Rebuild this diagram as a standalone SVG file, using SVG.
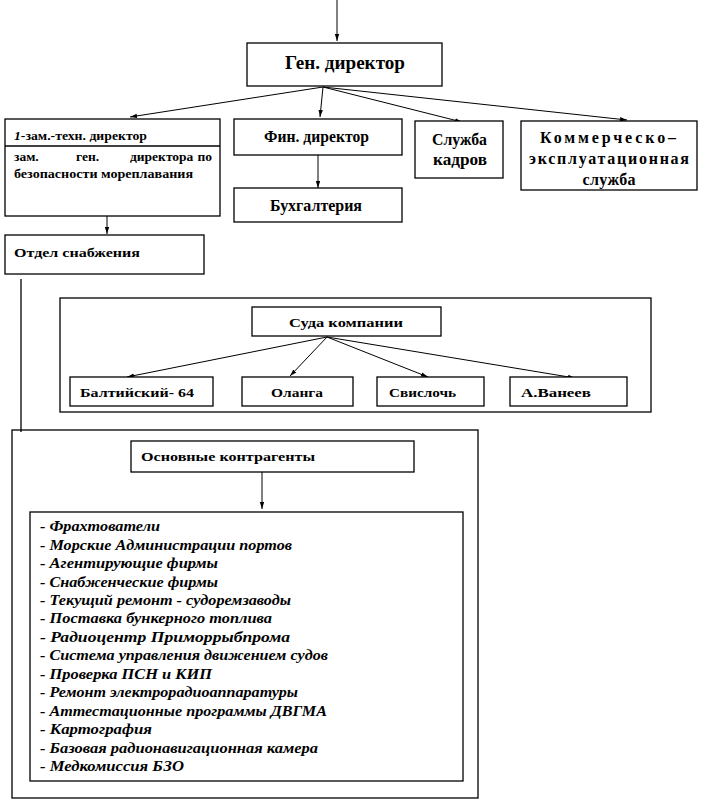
<svg xmlns="http://www.w3.org/2000/svg" width="703" height="802" viewBox="0 0 703 802" font-family="Liberation Serif, Times New Roman, serif" font-weight="bold">
<defs>
<marker id="ah" markerWidth="7" markerHeight="6" refX="7" refY="3" orient="auto" markerUnits="userSpaceOnUse">
<path d="M0,0.8 L7,3 L0,5.2 Z" fill="#000"/>
</marker>
<style>
.b{fill:#fff;stroke:#000;stroke-width:1.3}
.f{fill:none;stroke:#000;stroke-width:1.3}
.c{stroke:#000;stroke-width:1;fill:none;marker-end:url(#ah)}
.l{stroke:#000;stroke-width:1.3;fill:none}
.t{font-size:16px}
.k{font-size:16px;text-anchor:middle}
.s{font-size:13.5px}
.i{font-size:15px;font-style:italic}
</style>
</defs>
<rect width="703" height="802" fill="#fff"/>
<g id="connectors">
<line class="c" x1="337" y1="0" x2="337" y2="41"/>
<line class="c" x1="323" y1="87" x2="130" y2="117"/>
<line class="c" x1="323" y1="87" x2="320" y2="117"/>
<line class="c" x1="323" y1="87" x2="462" y2="122"/>
<line class="c" x1="323" y1="87" x2="627" y2="120"/>
<line class="c" x1="318" y1="155" x2="318" y2="188"/>
<line class="c" x1="107" y1="216" x2="107" y2="234"/>
<line class="l" x1="21" y1="279" x2="21" y2="432"/>
<line class="c" x1="327" y1="337" x2="127" y2="377"/>
<line class="c" x1="327" y1="337" x2="290" y2="376"/>
<line class="c" x1="327" y1="337" x2="428" y2="377"/>
<line class="c" x1="327" y1="337" x2="575" y2="378"/>
<line class="c" x1="262" y1="472" x2="262" y2="509"/>
</g>
<g id="gen">
<rect class="b" x="247" y="43" width="195" height="43"/>
<text x="285" y="69" font-size="19" textLength="120" lengthAdjust="spacingAndGlyphs">Ген. директор</text>
</g>
<g id="zam">
<rect class="b" x="5" y="119" width="215" height="97"/>
<line class="l" x1="5" y1="146" x2="220" y2="146"/>
<text class="s" x="14" y="140" textLength="133" lengthAdjust="spacingAndGlyphs"><tspan font-style="italic">1</tspan>-зам.-техн. директор</text>
<text class="s" x="14" y="161">зам.</text>
<text class="s" x="76" y="161">ген.</text>
<text class="s" x="130" y="161">директора</text>
<text class="s" x="212" y="161" text-anchor="end">по</text>
<text class="s" x="14" y="178" textLength="179" lengthAdjust="spacingAndGlyphs">безопасности мореплавания</text>
</g>
<g id="fin">
<rect class="b" x="234" y="119" width="168" height="36"/>
<text class="t" x="264" y="142" textLength="105" lengthAdjust="spacingAndGlyphs">Фин. директор</text>
</g>
<g id="buh">
<rect class="b" x="234" y="188" width="168" height="34"/>
<text class="t" x="270" y="211" textLength="92" lengthAdjust="spacingAndGlyphs">Бухгалтерия</text>
</g>
<g id="kadr">
<rect class="b" x="415" y="121" width="88" height="57"/>
<text class="t" x="432" y="145" textLength="55" lengthAdjust="spacingAndGlyphs">Служба</text>
<text class="t" x="433" y="165" textLength="54" lengthAdjust="spacingAndGlyphs">кадров</text>
</g>
<g id="komm">
<rect class="b" x="521" y="121" width="176" height="69"/>
<text class="k" x="608" y="143" textLength="136" lengthAdjust="spacing">Коммерческо–</text>
<text class="k" x="609" y="164" textLength="160" lengthAdjust="spacing">эксплуатационная</text>
<text class="k" x="609" y="185" textLength="53" lengthAdjust="spacing">служба</text>
</g>
<g id="snab">
<rect class="b" x="5" y="235" width="199" height="39"/>
<text class="s" x="14" y="257" textLength="126" lengthAdjust="spacingAndGlyphs">Отдел снабжения</text>
</g>
<g id="sudaFrame">
<rect class="f" x="60" y="298" width="591" height="114"/>
</g>
<g id="suda">
<rect class="b" x="252" y="307" width="189" height="29"/>
<text class="s" x="289" y="327" textLength="114" lengthAdjust="spacingAndGlyphs">Суда компании</text>
</g>
<g id="balt">
<rect class="b" x="70" y="377" width="143" height="29"/>
<text class="s" x="80" y="397" textLength="114" lengthAdjust="spacingAndGlyphs">Балтийский- 64</text>
</g>
<g id="olanga">
<rect class="b" x="242" y="377" width="111" height="29"/>
<text class="s" x="271" y="397" textLength="52" lengthAdjust="spacingAndGlyphs">Оланга</text>
</g>
<g id="svisl">
<rect class="b" x="377" y="377" width="107" height="29"/>
<text class="s" x="389" y="397" textLength="67" lengthAdjust="spacingAndGlyphs">Свислочь</text>
</g>
<g id="vaneev">
<rect class="b" x="510" y="377" width="117" height="29"/>
<text class="s" x="521" y="397" textLength="70" lengthAdjust="spacingAndGlyphs">А.Ванеев</text>
</g>
<g id="kontrFrame">
<rect class="f" x="12" y="430" width="466" height="368"/>
</g>
<g id="kontr">
<rect class="b" x="131" y="441" width="283" height="31"/>
<text class="s" x="141" y="461" textLength="174" lengthAdjust="spacingAndGlyphs">Основные контрагенты</text>
</g>
<g id="list">
<rect class="b" x="30" y="512" width="433" height="269"/>
<text class="i" x="40" y="531" textLength="120" lengthAdjust="spacingAndGlyphs">- Фрахтователи</text>
<text class="i" x="40" y="550" textLength="252" lengthAdjust="spacingAndGlyphs">- Морские Администрации портов</text>
<text class="i" x="40" y="568" textLength="178" lengthAdjust="spacingAndGlyphs">- Агентирующие фирмы</text>
<text class="i" x="40" y="587" textLength="178" lengthAdjust="spacingAndGlyphs">- Снабженческие фирмы</text>
<text class="i" x="40" y="605" textLength="251" lengthAdjust="spacingAndGlyphs">- Текущий ремонт - судоремзаводы</text>
<text class="i" x="40" y="623" textLength="232" lengthAdjust="spacingAndGlyphs">- Поставка бункерного топлива</text>
<text class="i" x="40" y="642" textLength="250" lengthAdjust="spacingAndGlyphs">- Радиоцентр Приморрыбпрома</text>
<text class="i" x="40" y="660" textLength="288" lengthAdjust="spacingAndGlyphs">- Система управления движением судов</text>
<text class="i" x="40" y="679" textLength="172" lengthAdjust="spacingAndGlyphs">- Проверка ПСН и КИП</text>
<text class="i" x="40" y="697" textLength="258" lengthAdjust="spacingAndGlyphs">- Ремонт электрорадиоаппаратуры</text>
<text class="i" x="40" y="716" textLength="287" lengthAdjust="spacingAndGlyphs">- Аттестационные программы ДВГМА</text>
<text class="i" x="40" y="734" textLength="112" lengthAdjust="spacingAndGlyphs">- Картография</text>
<text class="i" x="40" y="753" textLength="278" lengthAdjust="spacingAndGlyphs">- Базовая радионавигационная камера</text>
<text class="i" x="40" y="771" textLength="144" lengthAdjust="spacingAndGlyphs">- Медкомиссия БЗО</text>
</g>
</svg>
